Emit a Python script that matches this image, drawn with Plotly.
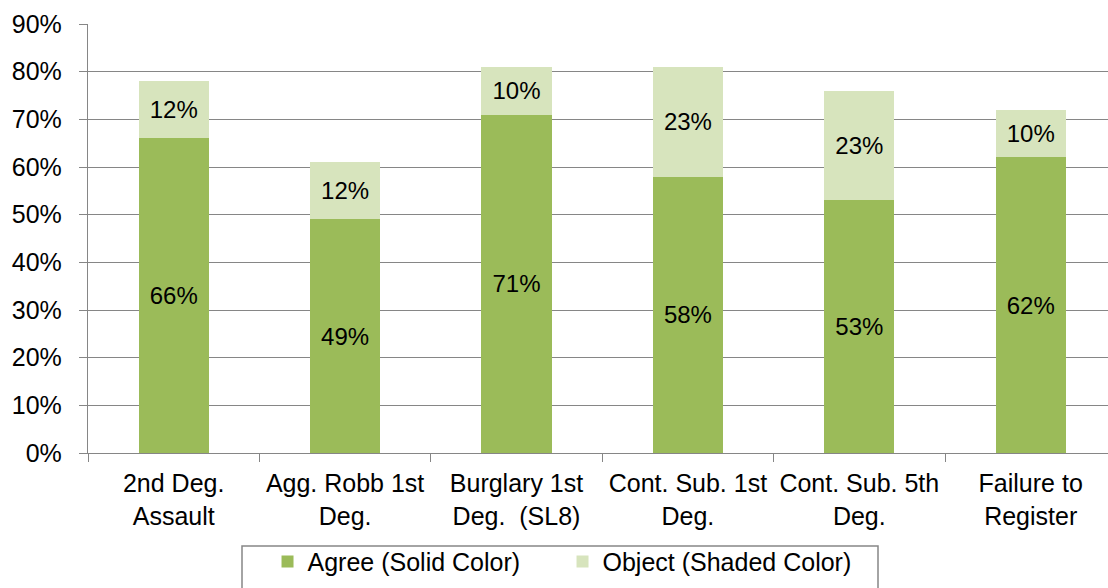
import plotly.graph_objects as go

categories = [
    "2nd Deg.<br>Assault",
    "Agg. Robb 1st<br>Deg.",
    "Burglary 1st<br>Deg.  (SL8)",
    "Cont. Sub. 1st<br>Deg.",
    "Cont. Sub. 5th<br>Deg.",
    "Failure to<br>Register",
]
agree = [0.66, 0.49, 0.71, 0.58, 0.53, 0.62]
object_ = [0.12, 0.12, 0.10, 0.23, 0.23, 0.10]
y_ticks = [0, 0.1, 0.2, 0.3, 0.4, 0.5, 0.6, 0.7, 0.8, 0.9]
y_tick_labels = ["0%", "10%", "20%", "30%", "40%", "50%", "60%", "70%", "80%", "90%"]

FONT = "Liberation Sans, Arial, sans-serif"
GRID = "#868686"

fig = go.Figure()
fig.add_trace(go.Bar(
    x=categories, y=agree, name="Agree (Solid Color)",
    marker=dict(color="#9BBB59", line=dict(width=0)),
    text=[f"{round(v * 100)}%" for v in agree],
    textposition="inside", insidetextanchor="middle",
    textfont=dict(family=FONT, size=24, color="#000000"),
    textangle=0,
))
fig.add_trace(go.Bar(
    x=categories, y=object_, name="Object (Shaded Color)",
    marker=dict(color="#D7E4BD", line=dict(width=0)),
    text=[f"{round(v * 100)}%" for v in object_],
    textposition="inside", insidetextanchor="middle",
    textfont=dict(family=FONT, size=24, color="#000000"),
    textangle=0,
))

fig.update_layout(
    width=1108, height=588,
    barmode="stack", bargap=0.59,
    margin=dict(l=88, r=0, t=24, b=135),
    paper_bgcolor="white", plot_bgcolor="white",
    font=dict(family=FONT, size=25, color="#000000"),
    uniformtext=dict(minsize=10, mode="show"),
    showlegend=True,
    legend=dict(
        orientation="h", x=0.176, y=-0.2, xanchor="left", yanchor="top",
        font=dict(family=FONT, size=25, color="#000000"),
        bgcolor="rgba(0,0,0,0)", borderwidth=0,
        entrywidth=250, traceorder="normal",
    ),
    xaxis=dict(
        range=[-0.5, 5.451],
        showline=True, linecolor=GRID, linewidth=1.3,
        ticks="outside", tickson="boundaries", ticklen=8, tickcolor=GRID,
        showgrid=False, ticklabelstandoff=8,
        tickfont=dict(family=FONT, size=25, color="#000000"),
    ),
    yaxis=dict(
        range=[0, 0.9],
        tickvals=y_ticks, ticktext=y_tick_labels,
        showline=True, linecolor=GRID, linewidth=1.3,
        ticks="outside", ticklen=8, tickcolor=GRID,
        showgrid=True, gridcolor=GRID, gridwidth=1.3,
        zeroline=False, ticklabelstandoff=12,
        tickfont=dict(family=FONT, size=25, color="#000000"),
    ),
    shapes=[dict(
        type="rect", xref="paper", yref="paper",
        x0=(242 - 88) / 1020, x1=(878 - 88) / 1020,
        y0=-(620 - 453) / 429, y1=-(546 - 453) / 429,
        line=dict(color=GRID, width=1.5), fillcolor="rgba(0,0,0,0)",
    )],
)

fig.write_html("out.html")
